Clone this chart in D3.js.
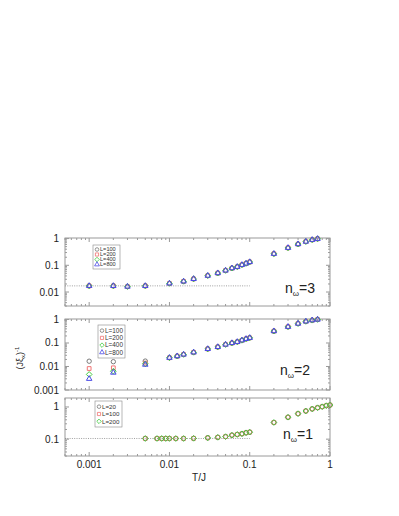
<!DOCTYPE html>
<html><head><meta charset="utf-8">
<script src="https://cdn.jsdelivr.net/npm/d3@7"></script>
<style>body{margin:0;background:#fff}svg{display:block}</style>
</head><body>
<svg id="c" width="399" height="516"></svg>
<script>
// ---------- data ----------
const xTicks = [0.001, 0.01, 0.1, 1];
const xTickLabels = ["0.001", "0.01", "0.1", "1"];

// panel n_w = 3
const T3 = [0.001,0.002,0.003,0.005,0.01,0.015,0.02,0.03,0.04,0.05,0.06,0.07,0.08,0.09,0.1,0.2,0.3,0.4,0.5,0.6,0.7];
const Y3 = [0.017,0.017,0.016,0.017,0.021,0.025,0.031,0.041,0.051,0.064,0.078,0.088,0.104,0.117,0.133,0.27,0.45,0.62,0.77,0.9,0.98];
const L3 = ["L=100","L=200","L=400","L=800"];
const plateau3 = 0.017;
const yTicks3 = [1, 0.1, 0.01];

// panel n_w = 2
const T2 = [0.001,0.002,0.005,0.01,0.0125,0.015,0.02,0.03,0.04,0.05,0.06,0.07,0.08,0.09,0.1,0.2,0.3,0.4,0.5,0.6,0.7];
const Y2_L100 = [0.0168,0.016,0.017,0.0236,0.0276,0.0325,0.04,0.056,0.068,0.086,0.1,0.112,0.13,0.15,0.166,0.32,0.49,0.67,0.83,0.93,1.0];
const Y2_L200 = [0.0082,0.0088,0.014,0.0236,0.0276,0.0325,0.04,0.056,0.068,0.086,0.1,0.112,0.13,0.15,0.166,0.32,0.49,0.67,0.83,0.93,1.0];
const Y2_L400 = [0.0046,0.0063,0.013,0.0236,0.0276,0.0325,0.04,0.056,0.068,0.086,0.1,0.112,0.13,0.15,0.166,0.32,0.49,0.67,0.83,0.93,1.0];
const Y2_L800 = [0.003,0.0055,0.012,0.0236,0.0276,0.0325,0.04,0.056,0.068,0.086,0.1,0.112,0.13,0.15,0.166,0.32,0.49,0.67,0.83,0.93,1.0];
const L2 = ["L=100","L=200","L=400","L=800"];
const yTicks2 = [1, 0.1, 0.01, 0.001];

// panel n_w = 1
const T1 = [0.005,0.007,0.008,0.009,0.01,0.012,0.015,0.02,0.03,0.04,0.05,0.06,0.07,0.08,0.09,0.1,0.2,0.3,0.4,0.5,0.6,0.7,0.8,0.9,1.0];
const Y1 = [0.105,0.105,0.105,0.105,0.105,0.105,0.105,0.106,0.11,0.114,0.12,0.133,0.14,0.147,0.158,0.165,0.33,0.48,0.62,0.75,0.87,0.95,1.02,1.1,1.15];
const L1 = ["L=20","L=100","L=200"];
const plateau1 = 0.105;
const yTicks1 = [1, 0.1];

// ---------- drawing ----------
const svg = d3.select("#c");
const left = 65, right = 330;
const x = d3.scaleLog().domain([0.0005, 1]).range([left, right]);

const colors = ["#7a7a7a", "#f07474", "#3fcc3f", "#4a4ae6"];
const diamond = {draw(ctx, size){ const r = Math.sqrt(size / 2); ctx.moveTo(0,-r); ctx.lineTo(r,0); ctx.lineTo(0,r); ctx.lineTo(-r,0); ctx.closePath(); }};
const shapes = [d3.symbolCircle, d3.symbolSquare, diamond, d3.symbolTriangle];
const sizes = [15, 14, 16, 13];

const panels = [
  {top: 238, bottom: 306, dom: [0.003, 1.05], yt: yTicks3, series: [Y3, Y3, Y3, Y3], T: T3, labels: L3, n: "3",
   plateau: plateau3, legend: {x: 93, y: 245, w: 27, h: 24, fs: 5.6}, nx: 285, ny: 293},
  {top: 319, bottom: 390, dom: [0.001, 1.05], yt: yTicks2, series: [Y2_L100, Y2_L200, Y2_L400, Y2_L800], T: T2, labels: L2, n: "2",
   plateau: null, legend: {x: 98, y: 325, w: 27, h: 33, fs: 6.4}, nx: 280, ny: 375},
  {top: 398, bottom: 456, dom: [0.03, 1.9], yt: yTicks1, series: [Y1, Y1, Y1], T: T1, labels: L1, n: "1",
   plateau: plateau1, legend: {x: 95, y: 401, w: 27, h: 26, fs: 6.2}, nx: 283, ny: 439}
];

const frameCol = "#9a9a9a";
function fmt(v){ return v >= 1 ? "1" : String(v); }

panels.forEach((p, pi) => {
  const y = d3.scaleLog().domain(p.dom).range([p.bottom, p.top]);
  const g = svg.append("g");
  g.append("rect").attr("x", left).attr("y", p.top).attr("width", right - left).attr("height", p.bottom - p.top)
    .attr("fill", "none").attr("stroke", frameCol).attr("stroke-width", 1);

  const yd = p.dom;
  const ymin = Math.floor(Math.log10(yd[0])), ymax = Math.ceil(Math.log10(yd[1]));
  for (let e = ymin; e <= ymax; e++) {
    for (let m = 1; m <= 9; m++) {
      const v = m * Math.pow(10, e);
      if (v < yd[0] * 0.999 || v > yd[1] * 1.001) continue;
      const len = m === 1 ? 4 : 2;
      const yy = y(v);
      g.append("line").attr("x1", left).attr("x2", left + len).attr("y1", yy).attr("y2", yy).attr("stroke", frameCol);
      g.append("line").attr("x1", right - len).attr("x2", right).attr("y1", yy).attr("y2", yy).attr("stroke", frameCol);
    }
  }
  for (let e = -4; e <= 0; e++) {
    for (let m = 1; m <= 9; m++) {
      const v = m * Math.pow(10, e);
      if (v < 0.0005 * 0.999 || v > 1.001) continue;
      const len = m === 1 ? 4 : 2;
      const xx = x(v);
      g.append("line").attr("x1", xx).attr("x2", xx).attr("y1", p.bottom).attr("y2", p.bottom - len).attr("stroke", frameCol);
      g.append("line").attr("x1", xx).attr("x2", xx).attr("y1", p.top).attr("y2", p.top + len).attr("stroke", frameCol);
    }
  }
  p.yt.forEach(v => {
    g.append("text").attr("x", left - 6).attr("y", y(v)).attr("dy", "0.35em")
      .attr("text-anchor", "end").attr("font-family", "Liberation Sans, Arial, sans-serif")
      .attr("font-size", 10).attr("fill", "#222").text(fmt(v));
  });

  if (p.plateau !== null) {
    g.append("line").attr("x1", left).attr("x2", x(0.1)).attr("y1", y(p.plateau)).attr("y2", y(p.plateau))
      .attr("stroke", "#888").attr("stroke-width", 0.8).attr("stroke-dasharray", "1,1.3");
  }

  p.series.forEach((vals, si) => {
    g.append("g").selectAll("path").data(p.T.map((t, i) => [t, vals[i]])).join("path")
      .attr("transform", d => `translate(${x(d[0])},${y(d[1])})`)
      .attr("d", d3.symbol().type(shapes[si]).size(sizes[si]))
      .attr("fill", "none").attr("stroke", colors[si]).attr("stroke-width", 1);
  });

  const L = p.legend;
  g.append("rect").attr("x", L.x).attr("y", L.y).attr("width", L.w).attr("height", L.h)
    .attr("fill", "#fff").attr("stroke", "#888").attr("stroke-width", 0.6);
  const step = (L.h - 4) / p.labels.length;
  p.labels.forEach((lab, i) => {
    const cy = L.y + 2 + step * (i + 0.5);
    g.append("path").attr("transform", `translate(${L.x + 4},${cy})`)
      .attr("d", d3.symbol().type(shapes[i]).size(10))
      .attr("fill", "none").attr("stroke", colors[i]).attr("stroke-width", 0.8);
    g.append("text").attr("x", L.x + 7).attr("y", cy).attr("dy", "0.35em")
      .attr("font-family", "Liberation Sans, Arial, sans-serif").attr("font-size", L.fs)
      .attr("fill", "#333").text(lab);
  });

  const t = g.append("text").attr("x", p.nx).attr("y", p.ny)
    .attr("font-family", "Liberation Sans, Arial, sans-serif").attr("font-size", 14).attr("fill", "#222");
  t.append("tspan").text("n");
  t.append("tspan").attr("font-size", 8).attr("dy", 3).text("ω");
  t.append("tspan").attr("dy", -3).text("=" + p.n);
});

const pb = panels[2];
xTicks.forEach((v, i) => {
  svg.append("text").attr("x", x(v)).attr("y", pb.bottom + 12).attr("text-anchor", "middle")
    .attr("font-family", "Liberation Sans, Arial, sans-serif").attr("font-size", 10).attr("fill", "#222")
    .text(xTickLabels[i]);
});
svg.append("text").attr("x", 199).attr("y", 481).attr("text-anchor", "middle")
  .attr("font-family", "Liberation Sans, Arial, sans-serif").attr("font-size", 10).attr("fill", "#222").text("T/J");
const yl = svg.append("text").attr("transform", "translate(23,358) rotate(-90)").attr("text-anchor", "middle")
  .attr("font-family", "Liberation Sans, Arial, sans-serif").attr("font-size", 9).attr("fill", "#222");
yl.append("tspan").text("(Jξ");
yl.append("tspan").attr("font-size", 6).attr("dy", 2).text("x");
yl.append("tspan").attr("dy", -2).text(")");
yl.append("tspan").attr("font-size", 6).attr("dy", -4).text("-1");
</script>
</body></html>
